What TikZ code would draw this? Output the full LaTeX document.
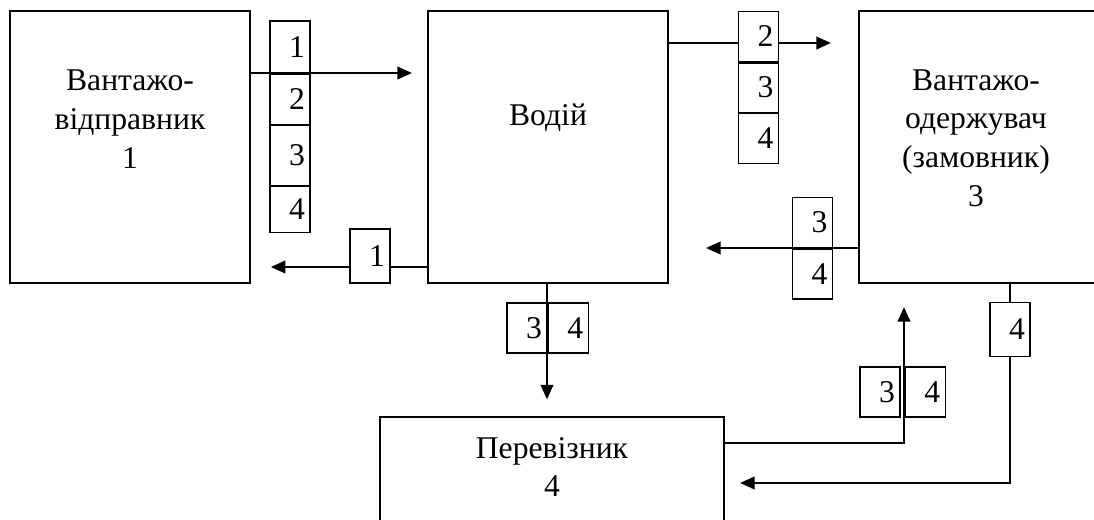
\documentclass[tikz,border=0pt]{standalone}
\usepackage{fontspec}
\setmainfont{Liberation Serif}
\usetikzlibrary{positioning}
\usetikzlibrary{arrows.meta}

\begin{document}
\begin{tikzpicture}[x=0.025cm, y=-0.025cm, node distance=0pt,
        party/.style={rectangle, draw=black, line width=1.3pt, minimum width=6cm, minimum height=6.8cm},
        lbl/.style={align=center},
        doc/.style={rectangle, draw=black, fill=white, line width=0.8pt, minimum width=1cm, text width=0.75cm, inner xsep=0.125cm, inner ysep=0pt, align=right},
        arr/.style={line width=0.8pt, -{Triangle[length=0.36cm, width=0.32cm]}}
        ]
        \fontsize{22.5}{27.5}\selectfont
        \clip (0,0) rectangle (1094,520);
        \node (vid) [party] at (130,147) {};
        \node (vod) [party] at (548,147) {};
        \node (odr) [party] at (979,147) {};
        \node (per) [party, minimum width=8.6cm, minimum height=2.9cm] at (552,475) {};
        \node (vidt) [lbl] at (130,119) {Вантажо-\\відправник\\1};
        \node (vodt) [lbl] at (548,118) {Водій};
        \node (odrt) [lbl] at (976,138) {Вантажо-\\одержувач\\(замовник)\\3};
        \node (pert) [lbl] at (552,467) {Перевізник\\4};
        \coordinate (ya) at (0,73);
        \coordinate (yb) at (0,267);
        \coordinate (yc) at (0,43);
        \coordinate (yd) at (0,248);
        \coordinate (xe) at (547,0);
        \coordinate (xf) at (904,0);
        \coordinate (yf) at (0,443);
        \coordinate (xg) at (1010,0);
        \coordinate (yg) at (0,483);
        \draw[arr, shorten >=0.38cm] (vid.east |- ya) -- (vod.west |- ya);
        \draw[arr, shorten >=0.5cm] (vod.west |- yb) -- (vid.east |- yb);
        \draw[arr, shorten >=0.68cm] (vod.east |- yc) -- (odr.west |- yc);
        \draw[arr, shorten >=0.93cm] (odr.west |- yd) -- (vod.east |- yd);
        \draw[arr, shorten >=0.42cm] (vod.south -| xe) -- (per.north -| xe);
        \draw[arr, shorten >=0.58cm] (per.east |- yf) -| (odr.south -| xf);
        \draw[arr, shorten >=0.38cm] (odr.south -| xg) |- (per.east |- yg);
        \node (a1) [doc, minimum height=1.3cm] at (290,47) {1};
        \node (a2) [doc, minimum height=1.25cm, below=of a1] {2};
        \node (a3) [doc, minimum height=1.5cm, below=of a2] {3};
        \node (a4) [doc, minimum height=1.15cm, below=of a3] {4};
        \node (b1) [doc, minimum height=1.35cm] at (370,256) {1};
        \node (c2) [doc, minimum height=1.27cm] at (758.5,36.5) {2};
        \node (c3) [doc, minimum height=1.23cm, below=of c2] {3};
        \node (c4) [doc, minimum height=1.25cm, below=of c3] {4};
        \node (d3) [doc, minimum height=1.27cm] at (812.5,222.5) {3};
        \node (d4) [doc, minimum height=1.25cm, below=of d3] {4};
        \node (e3) [doc, minimum height=1.25cm] at (527,328) {3};
        \node (e4) [doc, minimum height=1.25cm, right=of e3] {4};
        \node (f3) [doc, minimum height=1.25cm] at (880,392) {3};
        \node (f4) [doc, minimum height=1.25cm, right=0.1cm of f3] {4};
        \node (g4) [doc, minimum height=1.33cm] at (1010,329.5) {4};
\end{tikzpicture}
\end{document}
